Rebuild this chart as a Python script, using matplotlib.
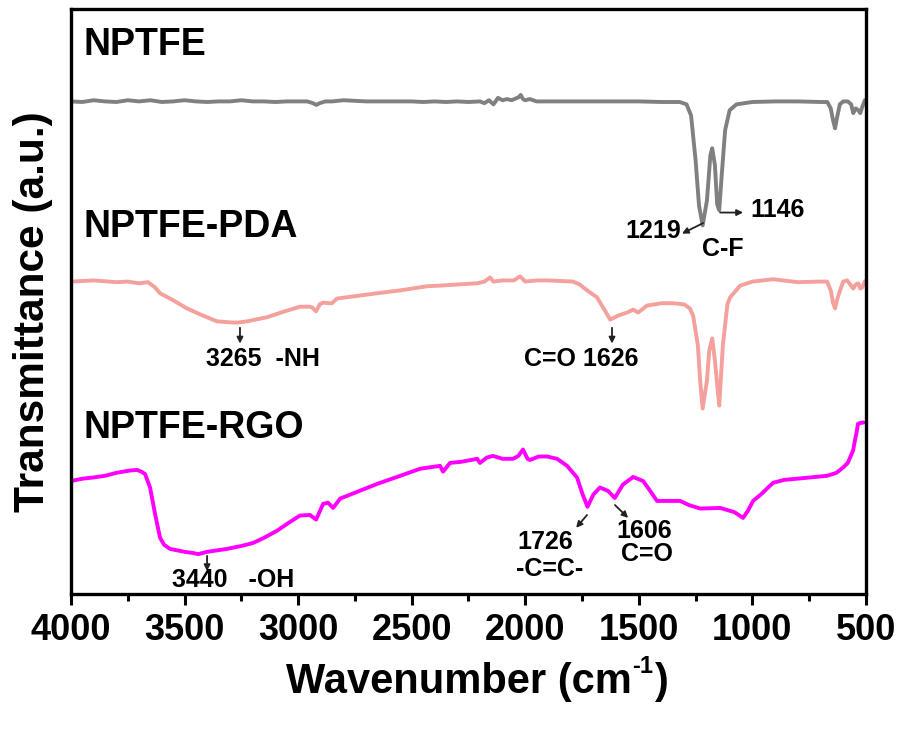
import matplotlib
matplotlib.use("Agg")
import matplotlib.pyplot as plt
from matplotlib.ticker import MultipleLocator

plt.rcParams['font.family'] = ['Liberation Sans', 'DejaVu Sans']
plt.rcParams['font.weight'] = 'bold'

# FTIR spectra (wavenumber in cm^-1, transmittance in offset arbitrary units)
nptfe_wn = [4000, 3950, 3900, 3850, 3800, 3750, 3700, 3650, 3600, 3550, 3500, 3450,
            3400, 3350, 3300, 3250, 3200, 3150, 3100, 3050, 3000, 2960, 2935, 2920,
            2905, 2880, 2850, 2800, 2700, 2600, 2500, 2450, 2400, 2350, 2300, 2250,
            2200, 2180, 2160, 2140, 2120, 2100, 2080, 2060, 2030, 2020, 2010, 2000,
            1980, 1950, 1900, 1800, 1700, 1600, 1500, 1400, 1320, 1290, 1270, 1250,
            1235, 1219, 1200, 1185, 1177, 1165, 1155, 1146, 1135, 1120, 1100, 1070,
            1000, 900, 800, 700, 670, 655, 645, 636, 628, 615, 600, 580, 565, 556,
            545, 534, 525, 515, 505, 500]
nptfe_t = [84.2, 84.1, 84.4, 84.2, 84.1, 84.4, 84.2, 84.4, 84.1, 84.2, 84.4, 84.2,
           84.1, 84.2, 84.2, 84.4, 84.2, 84.2, 84.1, 84.2, 84.2, 84.2, 83.9, 83.6,
           83.9, 84.2, 84.2, 84.4, 84.2, 84.2, 84.2, 84.1, 84.2, 84.1, 84.2, 84.1,
           84.2, 83.9, 84.4, 83.7, 84.8, 84.4, 84.6, 84.4, 84.9, 85.3, 84.6, 84.4,
           84.6, 84.2, 84.2, 84.2, 84.2, 84.2, 84.2, 84.1, 84.1, 83.7, 81.8, 74.1,
           66.4, 63.0, 67.3, 75.0, 76.2, 73.3, 66.6, 65.6, 71.6, 79.3, 82.7, 83.7,
           84.1, 84.2, 84.2, 84.1, 84.1, 83.0, 81.0, 79.6, 81.3, 83.7, 84.2, 84.2,
           83.7, 82.2, 83.0, 82.7, 82.2, 83.4, 84.4, 84.4]

pda_wn = [4000, 3900, 3800, 3750, 3700, 3661, 3630, 3608, 3550, 3489, 3420, 3357,
          3290, 3265, 3225, 3137, 3060, 2992, 2950, 2939, 2921, 2905, 2890, 2865,
          2851, 2829, 2750, 2653, 2550, 2432, 2380, 2300, 2212, 2180, 2155, 2140,
          2100, 2050, 2023, 2000, 1950, 1900, 1790, 1760, 1728, 1684, 1650, 1626,
          1590, 1552, 1525, 1503, 1464, 1400, 1349, 1300, 1275, 1261, 1240, 1230,
          1219, 1200, 1190, 1177, 1165, 1146, 1130, 1110, 1098, 1054, 1000, 909,
          800, 700, 671, 655, 645, 636, 628, 614, 600, 583, 565, 556, 545, 534,
          525, 517, 505, 500]
pda_t = [53.4, 53.6, 53.3, 53.4, 53.1, 53.3, 52.4, 51.4, 50.2, 48.8, 47.6, 46.6,
         46.4, 46.4, 46.6, 47.3, 48.3, 49.1, 49.1, 49.0, 48.3, 49.5, 49.8, 49.7,
         49.7, 50.5, 50.9, 51.4, 51.9, 52.6, 52.7, 52.9, 53.1, 53.4, 54.1, 53.4,
         53.6, 53.6, 54.3, 53.4, 53.6, 53.6, 53.4, 52.9, 51.9, 50.7, 48.5, 46.9,
         47.6, 48.1, 48.6, 48.1, 49.3, 49.7, 49.7, 49.5, 48.8, 47.6, 42.5, 36.5,
         31.7, 36.5, 41.6, 43.7, 39.9, 32.2, 42.5, 49.5, 50.7, 52.7, 53.4, 53.8,
         53.3, 53.4, 53.4, 51.9, 49.8, 48.8, 50.2, 51.9, 53.4, 53.6, 52.7, 52.2,
         52.9, 53.1, 52.2, 52.4, 53.4, 53.6]

rgo_wn = [4000, 3950, 3903, 3850, 3800, 3771, 3740, 3709, 3690, 3674, 3652, 3630,
          3608, 3590, 3564, 3500, 3463, 3440, 3400, 3313, 3250, 3199, 3150, 3093,
          3040, 2992, 2948, 2921, 2890, 2868, 2846, 2815, 2750, 2653, 2550, 2463,
          2375, 2362, 2331, 2280, 2212, 2199, 2170, 2142, 2100, 2054, 2030, 2010,
          1990, 1979, 1940, 1904, 1860, 1816, 1772, 1750, 1726, 1700, 1671, 1635,
          1606, 1570, 1525, 1481, 1450, 1420, 1380, 1318, 1280, 1230, 1142, 1080,
          1041, 1020, 997, 960, 909, 860, 803, 750, 671, 630, 601, 580, 557, 540,
          535, 517, 510]
rgo_t = [19.3, 19.7, 19.9, 20.2, 20.7, 20.9, 21.1, 21.2, 20.9, 20.5, 18.2, 13.7,
         9.6, 8.4, 7.7, 7.2, 7.0, 6.8, 7.2, 7.7, 8.2, 8.7, 9.6, 10.8,
         12.2, 13.4, 13.5, 12.7, 15.4, 15.6, 14.7, 16.3, 17.3, 18.8, 20.2, 21.4,
         21.9, 20.9, 22.4, 22.6, 23.1, 22.4, 23.3, 23.6, 23.1, 23.1, 23.6, 24.7,
         23.1, 22.9, 23.5, 23.5, 23.1, 21.9, 19.9, 17.3, 14.9, 17.0, 18.2, 17.6,
         16.4, 18.7, 20.0, 19.3, 17.6, 15.9, 15.9, 15.9, 15.2, 14.6, 14.7, 14.0,
         13.0, 14.2, 15.9, 17.1, 19.0, 19.5, 19.7, 19.9, 20.2, 20.7, 21.6, 22.4,
         24.5, 27.9, 29.1, 29.3, 29.3]

series_names = ['NPTFE', 'NPTFE-PDA', 'NPTFE-RGO']
series_colors = ['#808080', '#f4a09c', '#ff00ff']

fig = plt.figure(figsize=(9.01, 7.31), dpi=100)
ax = fig.add_axes([0.0788, 0.1875, 0.8823, 0.8002])

for wn, t, c in zip([nptfe_wn, pda_wn, rgo_wn], [nptfe_t, pda_t, rgo_t], series_colors):
    ax.plot(wn, t, color=c, lw=2.8, solid_joinstyle='round', solid_capstyle='round')

ax.set_xlim(4000, 500)
ax.set_ylim(0, 100)
ax.xaxis.set_major_locator(MultipleLocator(500))
ax.xaxis.set_minor_locator(MultipleLocator(250))
ax.set_yticks([])
ax.tick_params(axis='x', which='major', direction='out', length=8, width=2.2,
               labelsize=26, pad=6)
ax.tick_params(axis='x', which='minor', direction='out', length=5, width=2.2)
for lbl in ax.get_xticklabels():
    lbl.set_fontweight('bold')
for s in ax.spines.values():
    s.set_linewidth(2.4)

ax.set_ylabel('Transmittance (a.u.)', fontsize=30.5, fontweight='bold')
ax.yaxis.set_label_coords(-0.023, 0.483)

# x-axis title with a hyphen-style superscript
xl_fs = 30
xl_y = 0.052
t1 = fig.text(0.0, xl_y, 'Wavenumber (cm', fontsize=xl_fs, fontweight='bold',
              ha='left', va='baseline')
fig.canvas.draw()
r = fig.canvas.get_renderer()
w1 = t1.get_window_extent(r).width
t2 = fig.text(0.0, xl_y, '-1', fontsize=17, fontweight='bold', ha='left', va='baseline')
w2 = t2.get_window_extent(r).width
t3 = fig.text(0.0, xl_y, ')', fontsize=xl_fs, fontweight='bold', ha='left', va='baseline')
w3 = t3.get_window_extent(r).width
total = w1 + w2 + w3
x0 = 476 - total / 2
t1.set_x(x0 / fig.bbox.width)
t2.set_x((x0 + w1 + 1) / fig.bbox.width)
t2.set_y(xl_y + 20 / fig.bbox.height)
t3.set_x((x0 + w1 + w2 + 2) / fig.bbox.width)

# sample names
ax.text(3947, 92.1, series_names[0], fontsize=27, fontweight='bold', ha='left', va='baseline')
ax.text(3947, 61.0, series_names[1], fontsize=27, fontweight='bold', ha='left', va='baseline')
ax.text(3947, 26.7, series_names[2], fontsize=27, fontweight='bold', ha='left', va='baseline')

arrow = dict(arrowstyle='-|>', color='#222222', lw=1.3, mutation_scale=9, shrinkA=0, shrinkB=0)
fs = 18

# NPTFE: C-F stretching bands
ax.annotate('', xy=(1310, 61.6), xytext=(1217, 63.4), arrowprops=arrow)
ax.text(1437, 62.0, '1219', fontsize=fs, fontweight='bold', ha='center', va='center')
ax.annotate('', xy=(1041, 65.2), xytext=(1142, 65.2), arrowprops=arrow)
ax.text(1010, 65.6, '1146', fontsize=fs, fontweight='bold', ha='left', va='center')
ax.text(1129, 59.0, 'C-F', fontsize=fs, fontweight='bold', ha='center', va='center')

# NPTFE-PDA
ax.annotate('', xy=(3256, 42.8), xytext=(3256, 45.5), arrowprops=arrow)
ax.text(3155, 40.2, '3265  -NH', fontsize=fs, fontweight='bold', ha='center', va='center')
ax.annotate('', xy=(1618, 42.8), xytext=(1618, 45.5), arrowprops=arrow)
ax.text(1754, 40.2, 'C=O 1626', fontsize=fs, fontweight='bold', ha='center', va='center')

# NPTFE-RGO
ax.annotate('', xy=(1776, 11.3), xytext=(1728, 13.5), arrowprops=arrow)
ax.text(1913, 8.9, '1726', fontsize=fs, fontweight='bold', ha='center', va='center')
ax.text(1891, 4.3, '-C=C-', fontsize=fs, fontweight='bold', ha='center', va='center')
ax.annotate('', xy=(1547, 13.0), xytext=(1605, 15.2), arrowprops=arrow)
ax.text(1477, 10.8, '1606', fontsize=fs, fontweight='bold', ha='center', va='center')
ax.text(1464, 6.8, 'C=O', fontsize=fs, fontweight='bold', ha='center', va='center')
ax.annotate('', xy=(3401, 3.9), xytext=(3401, 6.5), arrowprops=arrow)
ax.text(3287, 2.4, '3440   -OH', fontsize=fs, fontweight='bold', ha='center', va='center')

fig.savefig('out.png', dpi=100)
